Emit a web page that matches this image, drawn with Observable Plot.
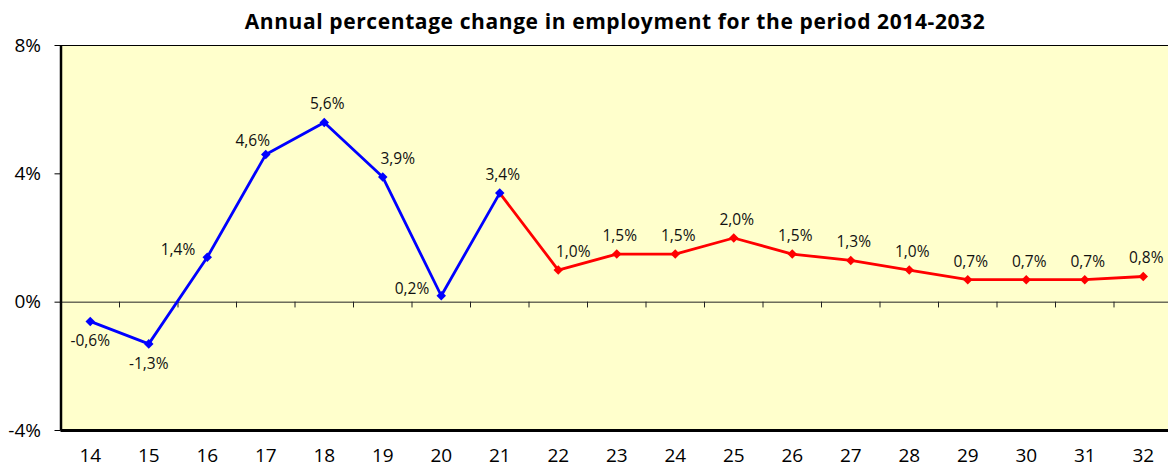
<!DOCTYPE html>
<html>
<head>
<meta charset="utf-8">
<script src="https://cdn.jsdelivr.net/npm/d3@7"></script>
<script src="https://cdn.jsdelivr.net/npm/@observablehq/plot@0.6"></script>
<style>
  html, body { margin: 0; padding: 0; background: #fff; overflow: hidden; width: 1168px; height: 468px; }
  #wrap { position: relative; width: 1168px; height: 468px; overflow: hidden; }
  #title { position: absolute; left: 0; width: 1230px; top: 7px; text-align: center;
           font-family: "Open Sans", sans-serif; font-weight: bold; font-size: 21px; color: #000; letter-spacing: 0.6px; }
  #chart { position: absolute; left: 0; top: 0; width: 1172px; }
  #chart svg { max-width: none !important; }
  #chart svg text { font-family: "Open Sans", sans-serif; }
  #chart svg g[aria-label="x-axis tick label"] text, #chart svg g[aria-label="y-axis tick label"] text,
  #chart svg g[aria-label="x-axis"] text, #chart svg g[aria-label="y-axis"] text { font-size: 19px; }
</style>
</head>
<body>
<div id="wrap">
  <div id="title">Annual percentage change in employment for the period 2014-2032</div>
  <div id="chart"></div>
</div>
<script>
// ---- data ----
const years = ["14","15","16","17","18","19","20","21","22","23","24","25","26","27","28","29","30","31","32"];
const values = [-0.6, -1.3, 1.4, 4.6, 5.6, 3.9, 0.2, 3.4, 1.0, 1.5, 1.5, 2.0, 1.5, 1.3, 1.0, 0.7, 0.7, 0.7, 0.8];
const historicYears = ["14","15","16","17","18","19","20","21"];
const forecastYears = ["21","22","23","24","25","26","27","28","29","30","31","32"];
const yTicks = [-4, 0, 4, 8];
const labelsBelow = ["14","15"];
const labelsLeft = ["16","20"];
const labelsUpRight = ["19","22"];
const labelsUpLeft = ["17"];

// ---- build table ----
const rows = years.map((y, i) => ({year: y, value: values[i], label: values[i].toFixed(1).replace(".", ",") + "%"}));
const blueRows = rows.filter(d => historicYears.includes(d.year));
const redRows = rows.filter(d => forecastYears.includes(d.year));

const W = 1172, ML = 60.5, MR = 0;
const step = (W - ML - MR) / years.length;
const half = step / 2;

const labelFont = {fontSize: 15.5, fill: "#111"};
const isAbove = d => !labelsBelow.includes(d.year) && !labelsLeft.includes(d.year) && !labelsUpRight.includes(d.year) && !labelsUpLeft.includes(d.year);

const chart = Plot.plot({
  width: W,
  height: 468,
  marginLeft: ML,
  marginRight: MR,
  marginTop: 45,
  marginBottom: 38,
  style: {background: "transparent", fontFamily: "'Open Sans', sans-serif", fontSize: "18px", color: "#000"},
  x: {type: "point", domain: years, padding: 0.5, align: 0.5, round: false, tickSize: 0, tickPadding: 18, label: null},
  y: {domain: [-4, 8], ticks: yTicks, tickFormat: d => d + "%", tickSize: 6, tickPadding: 14, label: null},
  marks: [
    Plot.frame({fill: "#FFFFCC", stroke: "#000", strokeWidth: 1}),
    Plot.ruleY([0], {stroke: "#222", strokeWidth: 1}),
    Plot.ruleX(years.slice(1), {x: d => d, dx: -half, y1: 0, y2: -0.18, stroke: "#222", strokeWidth: 1}),
    Plot.ruleX([years[0]], {x: d => d, dx: -half, stroke: "#000", strokeWidth: 2.5}),
    Plot.ruleY([-4], {stroke: "#000", strokeWidth: 3}),
    Plot.line(blueRows, {x: "year", y: "value", stroke: "#0000FF", strokeWidth: 2.8}),
    Plot.line(redRows, {x: "year", y: "value", stroke: "#FF0000", strokeWidth: 2.8}),
    Plot.dot(blueRows, {x: "year", y: "value", symbol: "diamond2", r: 4.3, fill: "#0000FF"}),
    Plot.dot(redRows.slice(1), {x: "year", y: "value", symbol: "diamond2", r: 4.3, fill: "#FF0000"}),
    Plot.text(rows.filter(isAbove), {x: "year", y: "value", text: "label", dx: 3, dy: -18, ...labelFont}),
    Plot.text(rows.filter(d => labelsBelow.includes(d.year)), {x: "year", y: "value", text: "label", dy: 20, ...labelFont}),
    Plot.text(rows.filter(d => labelsLeft.includes(d.year)), {x: "year", y: "value", text: "label", dx: -12, dy: -7, textAnchor: "end", ...labelFont}),
    Plot.text(rows.filter(d => labelsUpRight.includes(d.year)), {x: "year", y: "value", text: "label", dx: 15, dy: -18, ...labelFont}),
    Plot.text(rows.filter(d => labelsUpLeft.includes(d.year)), {x: "year", y: "value", text: "label", dx: -13, dy: -14, ...labelFont})
  ]
});
document.getElementById("chart").appendChild(chart);
</script>
</body>
</html>
